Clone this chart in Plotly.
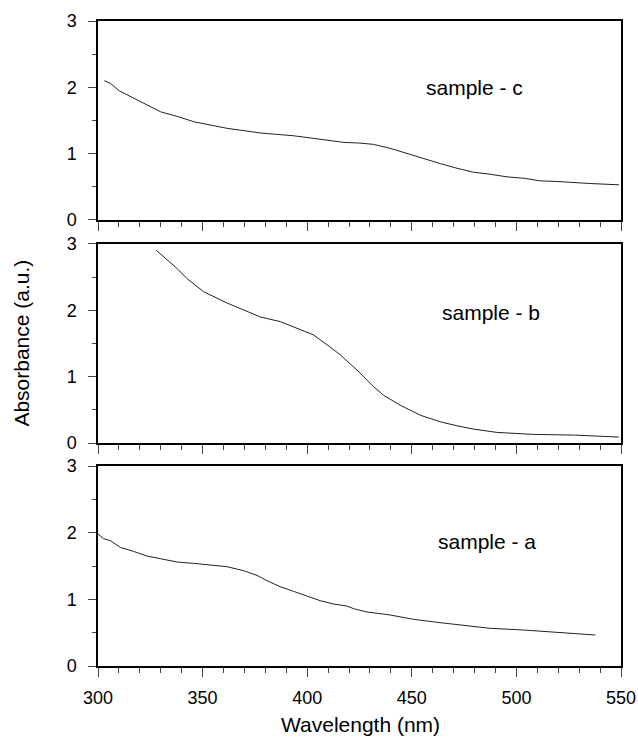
"""Absorbance spectra of three samples, stacked panels"""

import plotly.graph_objects as go

# sample - c (top panel)
wl_c = [303, 306, 310, 315.5, 322, 330, 338, 346, 362, 378, 393.5, 409.5, 417.5, 425,
        431.7, 439.7, 447.7, 455.6, 463.6, 471.6, 479.5, 487.5, 495.5, 503.4, 511.4,
        519.4, 527.3, 535.3, 549]
abs_c = [2.10, 2.06, 1.95, 1.86, 1.76, 1.63, 1.56, 1.48, 1.38, 1.31, 1.27, 1.20, 1.17, 1.16,
         1.14, 1.08, 1.00, 0.93, 0.85, 0.78, 0.72, 0.69, 0.65, 0.63, 0.59,
         0.58, 0.56, 0.55, 0.53]

# sample - b (middle panel)
wl_b = [327.7, 333, 337.8, 342.5, 350.5, 361.7, 369.6, 377.6, 387.1, 396.7, 403, 409.5,
        415.8, 423.8, 431.7, 436.5, 444.5, 454, 463.6, 471.6, 479.5, 490.7, 508.2,
        527.3, 549]
abs_b = [2.91, 2.76, 2.63, 2.48, 2.28, 2.11, 2.00, 1.90, 1.83, 1.71, 1.63, 1.48,
         1.33, 1.10, 0.85, 0.72, 0.57, 0.42, 0.32, 0.26, 0.21, 0.16, 0.13,
         0.12, 0.09]

# sample - a (bottom panel)
wl_a = [300, 302.7, 305.9, 310.7, 317, 323.4, 329.8, 337.8, 345.7, 353.7, 361.7, 369.6,
        376, 380.8, 387.1, 393.5, 399.9, 406.2, 412.6, 419, 422.2, 428.6, 439.7,
        450.9, 463.6, 474.8, 487.5, 503.4, 519.4, 537.7]
abs_a = [1.98, 1.91, 1.88, 1.78, 1.72, 1.65, 1.61, 1.56, 1.54, 1.52, 1.49, 1.43,
         1.36, 1.28, 1.19, 1.12, 1.05, 0.98, 0.93, 0.90, 0.86, 0.81, 0.765,
         0.70, 0.65, 0.615, 0.565, 0.54, 0.505, 0.465]

panels = [
    ("sample - c", wl_c, abs_c, [0.6915, 1.0], 480, 1.99),
    ("sample - b", wl_b, abs_b, [0.3457, 0.6543], 488, 1.96),
    ("sample - a", wl_a, abs_a, [0.0, 0.310], 486, 1.875),
]

FONT = "Liberation Sans, Arial, sans-serif"

fig = go.Figure()

for i, (name, wl, ab, dom, lx, ly) in enumerate(panels):
    n = "" if i == 0 else str(i + 1)
    fig.add_trace(go.Scatter(x=wl, y=ab, mode="lines", xaxis="x" + n, yaxis="y" + n,
                             line=dict(color="#222222", width=1), showlegend=False))
    fig.add_annotation(x=lx, y=ly, xref="x" + n, yref="y" + n, text=name,
                       showarrow=False, font=dict(family=FONT, size=21, color="black"))
    last = i == len(panels) - 1
    fig.update_layout(**{
        "xaxis" + n: dict(range=[300, 550], anchor="y" + n, dtick=50, automargin=False,
                          showticklabels=last, ticks="outside", ticklen=9, tickwidth=1.2,
                          minor=dict(dtick=10, ticks="outside", ticklen=5, tickwidth=1.2),
                          showline=True, linecolor="black", linewidth=1.5, mirror=True,
                          showgrid=False, zeroline=False, ticklabelstandoff=6,
                          tickfont=dict(family=FONT, size=18, color="black")),
        "yaxis" + n: dict(range=[0, 3], domain=dom, anchor="x" + n, dtick=1,
                          automargin=False,
                          ticks="outside", ticklen=8, tickwidth=1.2,
                          minor=dict(dtick=0.5, ticks="outside", ticklen=4, tickwidth=1.2),
                          showline=True, linecolor="black", linewidth=1.5, mirror=True,
                          showgrid=False, zeroline=False, ticklabelstandoff=8,
                          tickfont=dict(family=FONT, size=18, color="black")),
    })

fig.add_annotation(x=-0.147, y=0.5, xref="paper", yref="paper", text="Absorbance (a.u.)",
                   textangle=-90, showarrow=False, xanchor="center",
                   font=dict(family=FONT, size=21, color="black"))
fig.add_annotation(x=0.502, y=-0.091, xref="paper", yref="paper", text="Wavelength (nm)",
                   showarrow=False, yanchor="middle",
                   font=dict(family=FONT, size=21, color="black"))

fig.update_layout(width=638, height=737, margin=dict(l=98, r=17, t=21, b=71),
                  plot_bgcolor="white", paper_bgcolor="white")

# drop the default page margin so the figure fills the window exactly
fig.write_html("out.html", config={"displayModeBar": False},
               post_script="document.body.style.margin='0';document.body.style.overflow='hidden';")
